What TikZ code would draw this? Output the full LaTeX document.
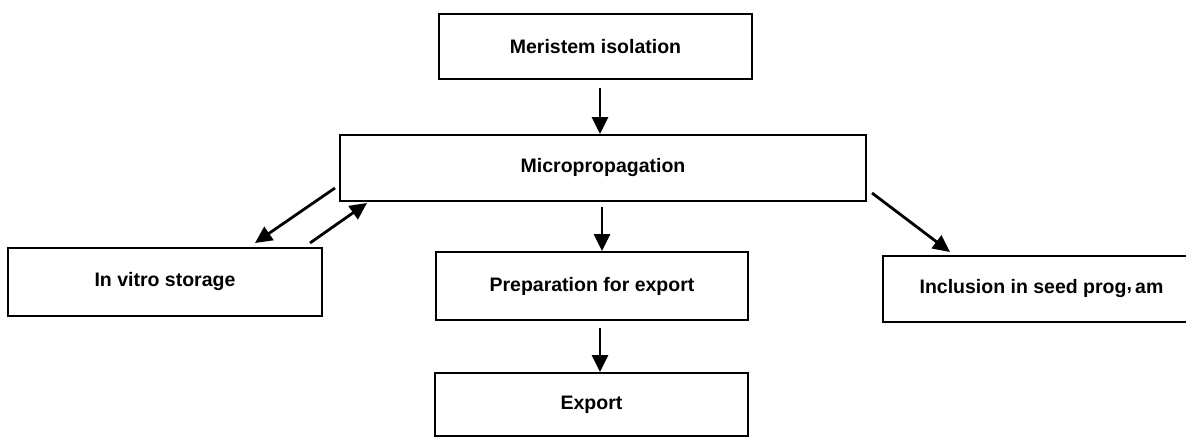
\documentclass[tikz,border=0pt]{standalone}
\usepackage{fontspec}
\setmainfont{Liberation Sans}
\usetikzlibrary{arrows.meta}
\begin{document}
\begin{tikzpicture}[x=1pt,y=-1pt,
  box/.style={draw, line width=1.9pt, inner sep=0pt, minimum height=66pt,
    font=\fontsize{19.5}{22}\selectfont\bfseries},
  arr/.style={line width=2.8pt, -{Triangle[length=17pt,width=16pt]}}]
\useasboundingbox (0,0) rectangle (1186,438);
\node[box, minimum width=313pt, minimum height=65pt] (mer) at (595.5,46.5) {Meristem isolation};
\node[box, minimum width=526pt] (mic) at (603,168) {Micropropagation};
\node[box, minimum width=314pt, minimum height=68pt] (ivs) at (165,282) {In vitro storage};
\node[box, minimum width=312pt, minimum height=68pt] (pre) at (592,286) {Preparation for export};
\node[box, minimum width=317pt] (inc) at (1041.5,289) {Inclusion in seed prog\raisebox{0.35ex}{,}\,am};
\node[box, minimum width=313pt, minimum height=63pt] (exp) at (591.5,404.5) {Export};
% connector end points
\coordinate (a1) at (600,88);
\coordinate (a2) at (602,207);
\coordinate (a3) at (600,328);
\coordinate (b1s) at (335,188);
\coordinate (b1e) at (255,243);
\coordinate (b2s) at (310,243);
\coordinate (b2e) at (367,203);
\coordinate (c1s) at (872,193);
\coordinate (c1e) at (950,252);
\draw[arr] (a1) -- (a1 |- mic.north);
\draw[arr] (a2) -- (a2 |- pre.north);
\draw[arr] (a3) -- (a3 |- exp.north);
\draw[arr] (b1s) -- (b1e);
\draw[arr] (b2s) -- (b2e);
\draw[arr] (c1s) -- (c1e);
\end{tikzpicture}
\end{document}
